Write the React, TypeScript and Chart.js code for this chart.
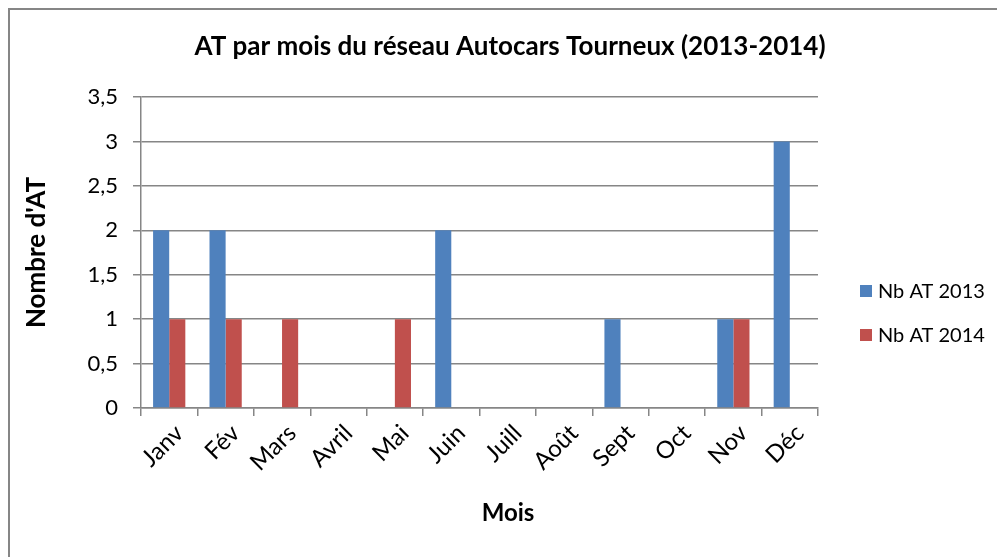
import React, { useEffect, useRef } from "react";
import { Chart, registerables } from "chart.js";

Chart.register(...registerables);

const months = ["Janv", "Fév", "Mars", "Avril", "Mai", "Juin", "Juill", "Août", "Sept", "Oct", "Nov", "Déc"];
const nb2013 = [2, 2, 0, 0, 0, 2, 0, 0, 1, 0, 1, 3];
const nb2014 = [1, 1, 1, 0, 1, 0, 0, 0, 0, 0, 1, 0];
const seriesLabels = ["Nb AT 2013", "Nb AT 2014"];
const seriesColors = ["#4F81BD", "#C0504D"];
const chartTitle = "AT par mois du réseau Autocars Tourneux (2013-2014)";
const xTitle = "Mois";
const yTitle = "Nombre d'AT";
const yMin = 0;
const yMax = 3.5;
const yStep = 0.5;

const FONT = "Lato, 'Liberation Sans', sans-serif";
const GRID = "#868686";

const overlay = {
  id: "overlay",
  beforeDraw(chart: any) {
    const { ctx, width, height } = chart;
    ctx.save();
    ctx.fillStyle = "#ffffff";
    ctx.fillRect(0, 0, width, height);
    ctx.strokeStyle = GRID;
    ctx.lineWidth = 2;
    ctx.strokeRect(9, 9, width + 20, height + 20);
    ctx.restore();
  },
  afterDraw(chart: any) {
    const { ctx, chartArea } = chart;
    ctx.save();
    ctx.fillStyle = "#000";
    ctx.textAlign = "center";
    ctx.textBaseline = "middle";
    ctx.font = `bold 26px ${FONT}`;
    ctx.fillText(chartTitle, 510, 47);
    ctx.font = `bold 24px ${FONT}`;
    ctx.fillText(xTitle, 508, 513);
    chart.data.datasets.forEach((ds: any, i: number) => {
      const y = 291 + i * 44;
      const x = chartArea.right + 42;
      ctx.fillStyle = ds.backgroundColor;
      ctx.fillRect(x, y - 6, 12, 12);
      ctx.fillStyle = "#000";
      ctx.textAlign = "left";
      ctx.font = `20px ${FONT}`;
      ctx.fillText(ds.label, x + 18, y + 1);
    });
    ctx.restore();
  },
};

export default function App() {
  const ref = useRef<HTMLCanvasElement | null>(null);
  useEffect(() => {
    if (!ref.current) return;
    const chart = new Chart(ref.current, {
      type: "bar",
      data: {
        labels: months,
        datasets: [
          { label: seriesLabels[0], data: nb2013, backgroundColor: seriesColors[0], borderWidth: 0 },
          { label: seriesLabels[1], data: nb2014, backgroundColor: seriesColors[1], borderWidth: 0 },
        ],
      },
      options: {
        responsive: false,
        animation: false,
        devicePixelRatio: 1,
        layout: { padding: { left: 0, top: 97, right: 179, bottom: 0 } },
        datasets: { bar: { categoryPercentage: 2 / 3.5, barPercentage: 1 } },
        plugins: { legend: { display: false }, title: { display: false }, tooltip: { enabled: false } },
        scales: {
          x: {
            grid: { offset: true, drawOnChartArea: false, color: GRID, lineWidth: 1.5, tickLength: 8 },
            border: { color: GRID, width: 1.5 },
            ticks: { minRotation: 45, maxRotation: 45, autoSkip: false, color: "#000", padding: 3, labelOffset: 10, font: { size: 24, family: FONT } },
            afterFit: (s: any) => { s.height = 149; },
          },
          y: {
            min: yMin,
            max: yMax,
            grid: { color: GRID, lineWidth: 1.5, tickLength: 8 },
            border: { color: GRID, width: 1.5 },
            ticks: {
              stepSize: yStep,
              color: "#000",
              padding: 15,
              font: { size: 22, family: FONT },
              callback: (v: any) => String(v).replace(".", ","),
            },
            title: { display: true, text: yTitle, color: "#000", font: { size: 26, weight: "bold", family: FONT }, padding: { top: 21, bottom: 0 } },
            afterFit: (s: any) => { s.width = 141; },
          },
        },
      },
      plugins: [overlay],
    });
    return () => chart.destroy();
  }, []);
  return (
    <div style={{ position: "absolute", left: 0, top: 0, width: 997, height: 557 }}>
      <canvas ref={ref} width={997} height={557} />
    </div>
  );
}
